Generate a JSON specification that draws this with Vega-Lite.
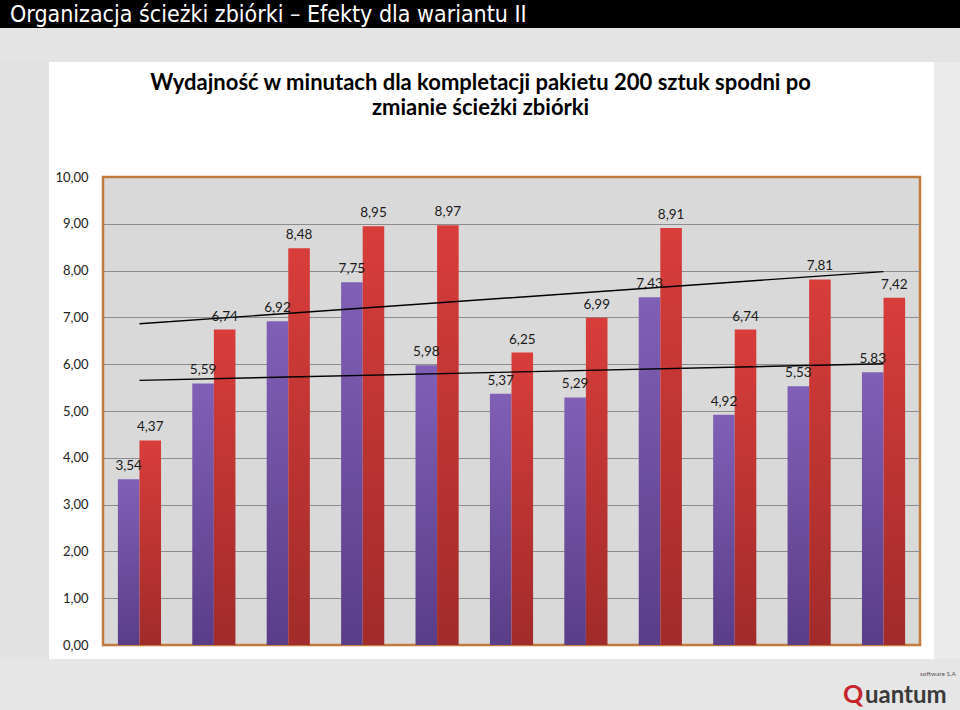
{
  "$schema": "https://vega.github.io/schema/vega-lite/v6.json",
  "padding": 0,
  "background": "#ffffff",
  "spacing": 0,
  "config": {
    "font": "Lato",
    "locale": {"number": {"decimal": ",", "thousands": " ", "grouping": [3], "currency": ["", " zł"]}},
    "view": {"stroke": null}
  },
  "datasets": {
    "d": [
      {"grp": 1, "series": "A", "value": 3.54}, {"grp": 1, "series": "B", "value": 4.37},
      {"grp": 2, "series": "A", "value": 5.59}, {"grp": 2, "series": "B", "value": 6.74},
      {"grp": 3, "series": "A", "value": 6.92}, {"grp": 3, "series": "B", "value": 8.48},
      {"grp": 4, "series": "A", "value": 7.75}, {"grp": 4, "series": "B", "value": 8.95},
      {"grp": 5, "series": "A", "value": 5.98}, {"grp": 5, "series": "B", "value": 8.97},
      {"grp": 6, "series": "A", "value": 5.37}, {"grp": 6, "series": "B", "value": 6.25},
      {"grp": 7, "series": "A", "value": 5.29}, {"grp": 7, "series": "B", "value": 6.99},
      {"grp": 8, "series": "A", "value": 7.43}, {"grp": 8, "series": "B", "value": 8.91},
      {"grp": 9, "series": "A", "value": 4.92}, {"grp": 9, "series": "B", "value": 6.74},
      {"grp": 10, "series": "A", "value": 5.53}, {"grp": 10, "series": "B", "value": 7.81},
      {"grp": 11, "series": "A", "value": 5.83}, {"grp": 11, "series": "B", "value": 7.42}
    ],
    "empty": []
  },
  "vconcat": [
    {
      "width": 960, "height": 28,
      "view": {"fill": "#000000", "stroke": null},
      "data": {"values": [{"t": "Organizacja ścieżki zbiórki – Efekty dla wariantu II"}]},
      "mark": {"type": "text", "align": "left", "baseline": "alphabetic", "color": "#ffffff", "fontSize": 23, "font": "Liberation Sans Narrow, DejaVu Sans Condensed, sans-serif"},
      "encoding": {"text": {"field": "t"}, "x": {"value": 10}, "y": {"value": 22}}
    },
    {
      "width": 960, "height": 34,
      "view": {"fill": "#e4e4e4", "stroke": null},
      "data": {"name": "empty"},
      "mark": "rect",
      "encoding": {}
    },
    {
      "spacing": 0,
      "hconcat": [
        {
          "width": 49, "height": 597,
          "view": {"fill": "#e2e2e2", "stroke": null},
          "data": {"name": "empty"},
          "mark": "rect",
          "encoding": {}
        },
        {
          "spacing": 0,
          "vconcat": [
            {
              "width": 10, "height": 8,
              "view": {"stroke": null},
              "data": {"name": "empty"},
              "mark": "rect",
              "encoding": {}
            },
            {
              "width": 817, "height": 468,
              "view": {"fill": "#d9d9d9", "stroke": "#c17a3d", "strokeWidth": 2.5},
              "title": {
                "text": ["Wydajność w minutach dla kompletacji pakietu 200 sztuk spodni po", "zmianie ścieżki zbiórki"],
                "fontSize": 22, "fontWeight": "bold", "color": "#000000",
                "anchor": "middle", "dx": -31, "offset": 51, "lineHeight": 25
              },
              "data": {"name": "d"},
              "encoding": {
                "x": {
                  "field": "grp", "type": "ordinal",
                  "scale": {"paddingInner": 0.42, "paddingOuter": 0.2},
                  "axis": {"labels": false, "ticks": false, "domain": false, "grid": false, "title": null, "minExtent": 9, "maxExtent": 9}
                }
              },
              "layer": [
                {
                  "transform": [{"filter": "datum.series === 'A'"}],
                  "mark": {"type": "bar", "color": {"gradient": "linear", "x1": 0, "y1": 0, "x2": 0, "y2": 1, "stops": [{"offset": 0, "color": "#8060b6"}, {"offset": 1, "color": "#5a3d88"}]}},
                  "encoding": {
                    "xOffset": {"field": "series", "type": "nominal", "scale": {"paddingInner": 0, "paddingOuter": 0}},
                    "y": {
                      "field": "value", "type": "quantitative",
                      "scale": {"domain": [0, 10]},
                      "axis": {
                        "orient": "left", "title": null, "values": [0, 1, 2, 3, 4, 5, 6, 7, 8, 9, 10],
                        "format": ".2f", "domain": false, "ticks": false, "labelPadding": 15,
                        "labelFontSize": 13, "labelColor": "#222222", "minExtent": 52,
                        "grid": true, "gridWidth": 1,
                        "gridColor": {"condition": {"test": "datum.value === 0 || datum.value === 10", "value": "transparent"}, "value": "#8c8c8c"}
                      }
                    }
                  }
                },
                {
                  "transform": [{"filter": "datum.series === 'B'"}],
                  "mark": {"type": "bar", "color": {"gradient": "linear", "x1": 0, "y1": 0, "x2": 0, "y2": 1, "stops": [{"offset": 0, "color": "#d83d3a"}, {"offset": 1, "color": "#a12b2a"}]}},
                  "encoding": {
                    "xOffset": {"field": "series", "type": "nominal"},
                    "y": {
                      "field": "value", "type": "quantitative",
                      "axis": {"orient": "right", "title": null, "labels": false, "ticks": false, "domain": false, "grid": false, "minExtent": 12, "maxExtent": 12}
                    }
                  }
                },
                {
                  "transform": [{"regression": "value", "on": "grp", "groupby": ["series"]}],
                  "mark": {"type": "line", "color": "#000000", "strokeWidth": 1.4},
                  "encoding": {
                    "y": {"field": "value", "type": "quantitative", "axis": null},
                    "detail": {"field": "series"}
                  }
                },
                {
                  "mark": {"type": "text", "baseline": "alphabetic", "dy": -9, "fontSize": 13.5, "color": "#1a1a1a"},
                  "encoding": {
                    "xOffset": {"field": "series", "type": "nominal"},
                    "y": {"field": "value", "type": "quantitative", "axis": null},
                    "text": {"field": "value", "type": "quantitative", "format": ".2f"}
                  }
                }
              ],
              "resolve": {"axis": {"y": "independent"}}
            }
          ]
        },
        {
          "width": 27, "height": 597,
          "view": {"fill": "#ebebeb", "stroke": null},
          "data": {"name": "empty"},
          "mark": "rect",
          "encoding": {}
        }
      ]
    },
    {
      "width": 960, "height": 51,
      "view": {"fill": "#e6e6e6", "stroke": null},
      "layer": [
        {
          "data": {"values": [{"t": "Q"}]},
          "mark": {"type": "text", "align": "left", "baseline": "alphabetic", "fontSize": 25, "fontWeight": "bold", "color": "#c8242b"},
          "encoding": {"text": {"field": "t"}, "x": {"value": 843}, "y": {"value": 44}}
        },
        {
          "data": {"values": [{"t": "uantum"}]},
          "mark": {"type": "text", "align": "left", "baseline": "alphabetic", "fontSize": 24, "fontWeight": "bold", "color": "#3a3a3a"},
          "encoding": {"text": {"field": "t"}, "x": {"value": 865}, "y": {"value": 44}}
        },
        {
          "data": {"values": [{"t": "software S.A"}]},
          "mark": {"type": "text", "align": "left", "baseline": "alphabetic", "fontSize": 6.5, "color": "#555555"},
          "encoding": {"text": {"field": "t"}, "x": {"value": 920}, "y": {"value": 17}}
        }
      ]
    }
  ]
}
